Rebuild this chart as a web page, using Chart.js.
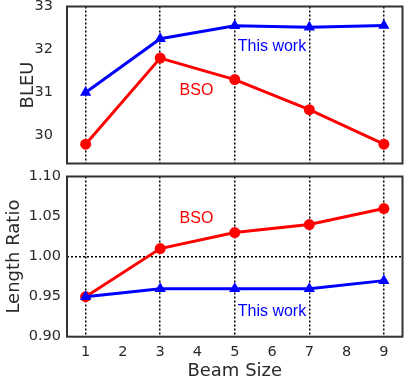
<!DOCTYPE html>
<html>
<head>
<meta charset="utf-8">
<script src="https://cdn.jsdelivr.net/npm/chart.js@4/dist/chart.umd.min.js"></script>
<style>
  html, body { margin: 0; padding: 0; background: #fff; }
  #wrap { position: relative; width: 409px; height: 380px; overflow: hidden; }
  canvas { position: absolute; left: 0; }
  #top { top: 0; }
  #bottom { top: 170px; }
</style>
</head>
<body>
<div id="wrap">
  <canvas id="top" width="409" height="170"></canvas>
  <canvas id="bottom" width="409" height="210"></canvas>
</div>
<script>
// ---- data ----
const beamSizes = [1, 3, 5, 7, 9];
const xTicks = [1, 2, 3, 4, 5, 6, 7, 8, 9];
const bleuTicks = [30, 31, 32, 33];
const ratioTicks = [0.90, 0.95, 1.00, 1.05, 1.10];
const seriesNames = ['This work', 'BSO'];
const bleuThisWork = [31.0, 32.25, 32.55, 32.52, 32.56];
const bleuBSO = [29.8, 31.8, 31.3, 30.6, 29.8];
const ratioThisWork = [0.95, 0.96, 0.96, 0.96, 0.97];
const ratioBSO = [0.95, 1.01, 1.03, 1.04, 1.06];
// text labels in data coordinates
const bleuNotes = [
  { text: 'This work', x: 5.08, y: 31.96, color: '#0000ff' },
  { text: 'BSO', x: 3.52, y: 30.94, color: '#ff0000' }
];
const ratioNotes = [
  { text: 'BSO', x: 3.52, y: 1.0424, color: '#ff0000' },
  { text: 'This work', x: 5.08, y: 0.9261, color: '#0000ff' }
];

Chart.defaults.font.family = "'DejaVu Sans', sans-serif";
Chart.defaults.color = '#2a2a2a';

const pts = (ys) => beamSizes.map((x, i) => ({ x: x, y: ys[i] }));
const dotted = [2, 2];

const framePlugin = {
  id: 'frame',
  afterDraw(chart) {
    const a = chart.chartArea, ctx = chart.ctx;
    ctx.save();
    ctx.strokeStyle = '#333';
    ctx.lineWidth = 2;
    ctx.strokeRect(a.left, a.top, a.right - a.left, a.bottom - a.top);
    ctx.restore();
  }
};
const notesPlugin = {
  id: 'notes',
  afterDraw(chart, args, opts) {
    const ctx = chart.ctx, xs = chart.scales.x, ys = chart.scales.y;
    ctx.save();
    ctx.font = "16px 'Liberation Sans', Arial, sans-serif";
    ctx.textAlign = 'left';
    ctx.textBaseline = 'alphabetic';
    (opts.items || []).forEach(n => {
      ctx.fillStyle = n.color;
      ctx.fillText(n.text, xs.getPixelForValue(n.x), ys.getPixelForValue(n.y));
    });
    ctx.restore();
  }
};

function datasets(thisWork, bso) {
  return [
    { label: seriesNames[0], data: pts(thisWork), borderColor: '#0000ff', backgroundColor: '#0000ff',
      borderWidth: 3, pointStyle: 'triangle', pointRadius: 6.5, pointBorderWidth: 0, clip: false },
    { label: seriesNames[1], data: pts(bso), borderColor: '#ff0000', backgroundColor: '#ff0000',
      borderWidth: 3, pointStyle: 'circle', pointRadius: 5.5, pointBorderWidth: 0, clip: false }
  ];
}

const xGridColor = (c) => (c.tick && Math.round(c.tick.value) % 2 === 1) ? '#000' : 'rgba(0,0,0,0)';
const noPad = (s) => { s.paddingTop = 0; s.paddingBottom = 0; s.paddingLeft = 0; s.paddingRight = 0; };

// ---- top chart ----
new Chart(document.getElementById('top'), {
  type: 'line',
  data: { datasets: datasets(bleuThisWork, bleuBSO) },
  options: {
    responsive: false, animation: false,
    layout: { padding: { top: 6, bottom: 3.3, left: 0, right: 2 } },
    plugins: { legend: { display: false }, tooltip: { enabled: false }, notes: { items: bleuNotes } },
    scales: {
      x: {
        type: 'linear', min: 0.5, max: 9.5,
        afterBuildTicks: s => { s.ticks = xTicks.map(v => ({ value: v })); },
        afterFit: s => { s.height = 0; noPad(s); },
        ticks: { display: false },
        grid: { color: xGridColor, lineWidth: 1.5, drawTicks: false },
        border: { display: false, dash: dotted }
      },
      y: {
        min: 29.35, max: 33,
        afterBuildTicks: s => { s.ticks = bleuTicks.map(v => ({ value: v })); },
        afterFit: s => { s.width = 67; noPad(s); },
        ticks: { font: { size: 14.5 }, padding: 6, callback: v => String(v) },
        grid: { display: false },
        border: { display: false },
        title: { display: true, text: 'BLEU', font: { size: 18 }, padding: { top: 18, bottom: 0 } }
      }
    }
  },
  plugins: [framePlugin, notesPlugin]
});

// ---- bottom chart ----
new Chart(document.getElementById('bottom'), {
  type: 'line',
  data: { datasets: datasets(ratioThisWork, ratioBSO) },
  options: {
    responsive: false, animation: false,
    layout: { padding: { top: 6, bottom: 0, left: 0, right: 2 } },
    plugins: { legend: { display: false }, tooltip: { enabled: false }, notes: { items: ratioNotes } },
    scales: {
      x: {
        type: 'linear', min: 0.5, max: 9.5,
        afterBuildTicks: s => { s.ticks = xTicks.map(v => ({ value: v })); },
        afterFit: s => { s.height = 43.3; noPad(s); },
        ticks: { font: { size: 14.5 }, padding: 7, callback: v => String(v) },
        grid: { color: xGridColor, lineWidth: 1.5, drawTicks: false },
        border: { display: false, dash: dotted },
        title: { display: true, text: 'Beam Size', font: { size: 18 }, padding: { top: 0, bottom: -2 } }
      },
      y: {
        min: 0.9, max: 1.1,
        afterBuildTicks: s => { s.ticks = ratioTicks.map(v => ({ value: v })); },
        afterFit: s => { s.width = 67; noPad(s); },
        ticks: { font: { size: 14.5 }, padding: 6, callback: v => Number(v).toFixed(2) },
        grid: { color: c => (c.tick && Math.abs(c.tick.value - 1) < 1e-6) ? '#000' : 'rgba(0,0,0,0)', lineWidth: 1.5, drawTicks: false },
        border: { display: false, dash: dotted },
        title: { display: true, text: 'Length Ratio', font: { size: 18 }, padding: { top: 3.5, bottom: 0 } }
      }
    }
  },
  plugins: [framePlugin, notesPlugin]
});
</script>
</body>
</html>
